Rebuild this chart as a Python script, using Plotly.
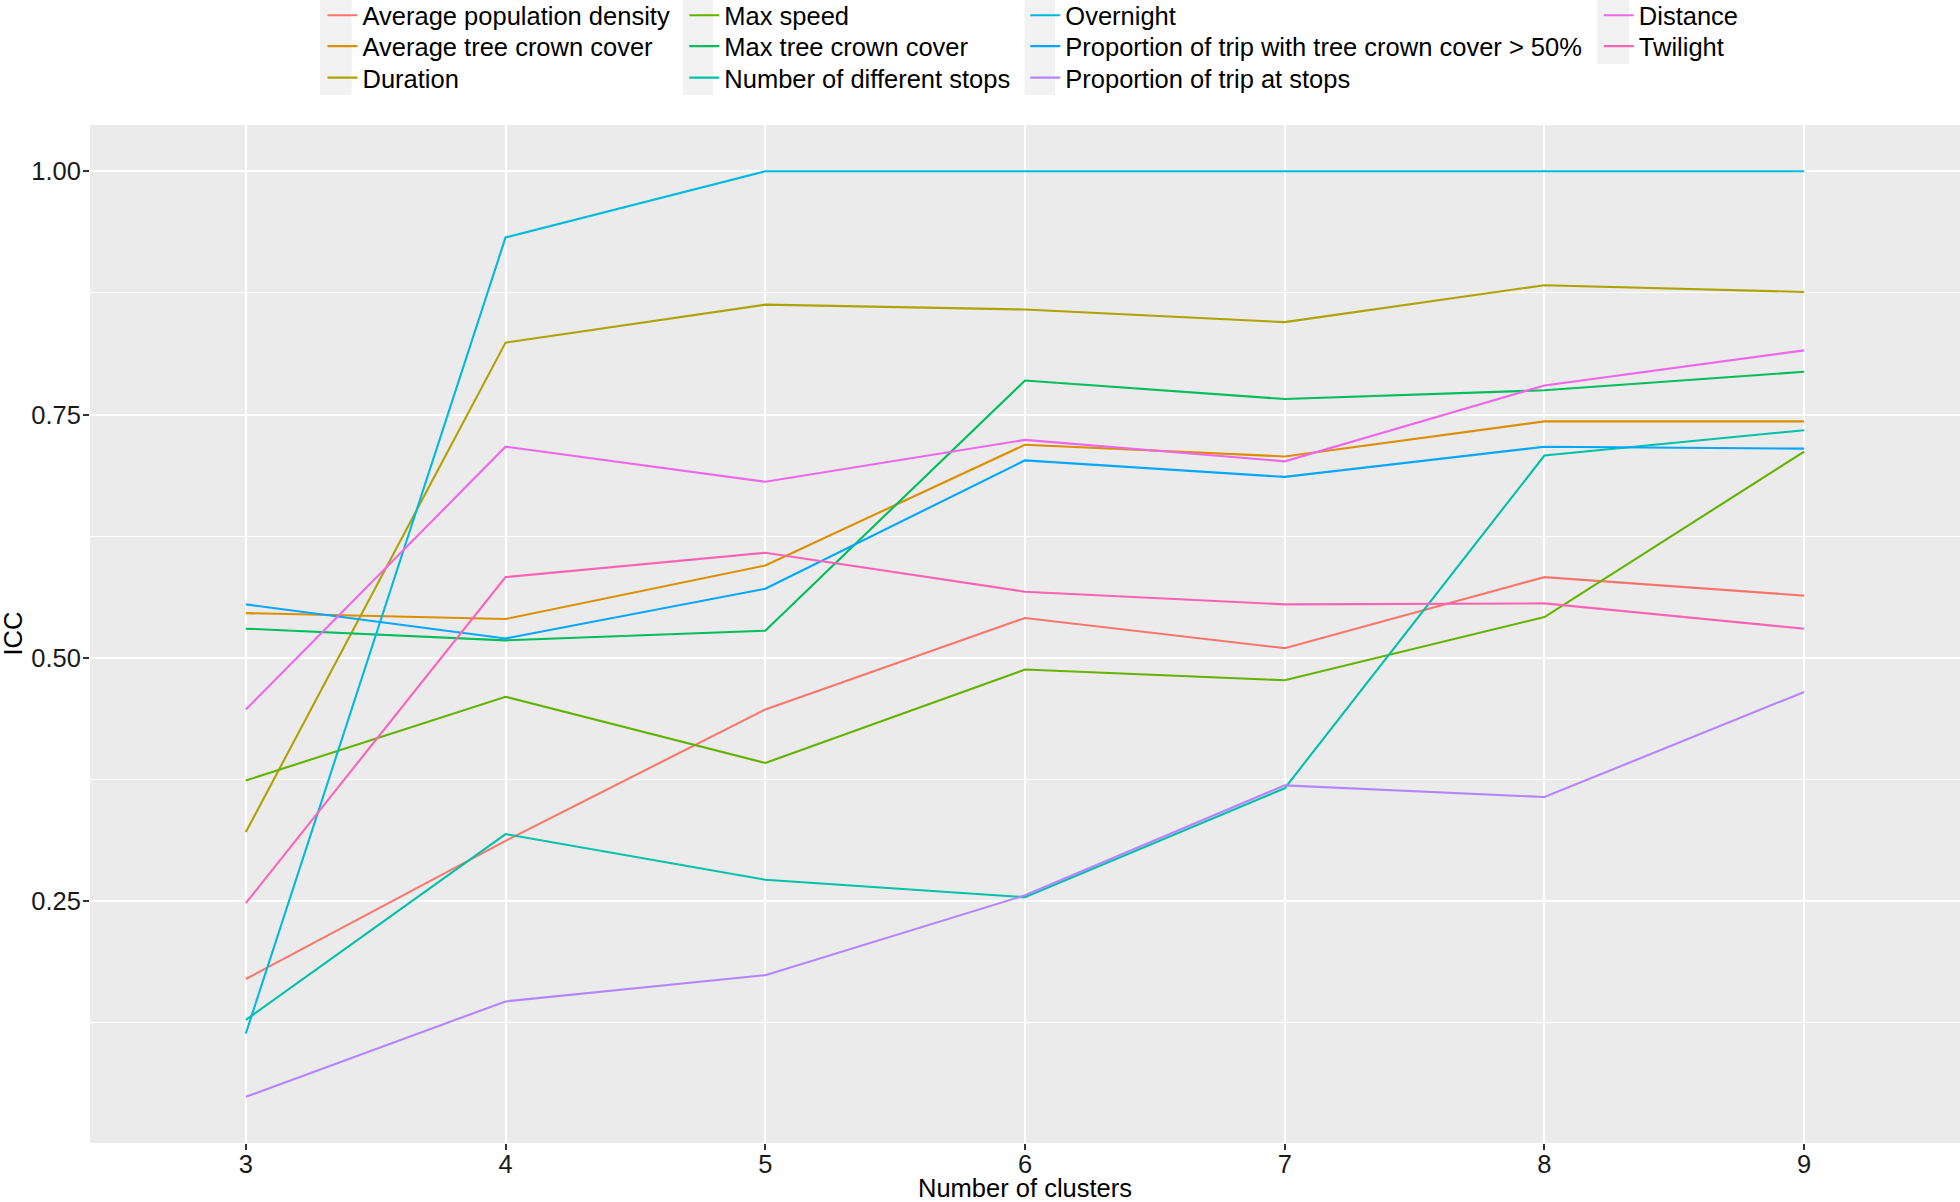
import plotly.graph_objects as go

# ---- data ----
clusters = [3, 4, 5, 6, 7, 8, 9]

avg_pop_density = [0.170, 0.312, 0.447, 0.541, 0.510, 0.583, 0.564]
avg_tree_crown = [0.546, 0.540, 0.595, 0.719, 0.707, 0.743, 0.743]
duration = [0.321, 0.824, 0.863, 0.858, 0.845, 0.883, 0.876]
max_speed = [0.374, 0.460, 0.392, 0.488, 0.477, 0.542, 0.712]
max_tree_crown = [0.530, 0.518, 0.528, 0.785, 0.766, 0.775, 0.794]
n_diff_stops = [0.128, 0.319, 0.272, 0.254, 0.366, 0.708, 0.734]
overnight = [0.114, 0.932, 1.0, 1.0, 1.0, 1.0, 1.0]
prop_tree50 = [0.555, 0.520, 0.571, 0.703, 0.686, 0.717, 0.715]
prop_stops = [0.049, 0.147, 0.174, 0.256, 0.369, 0.357, 0.465]
distance = [0.447, 0.717, 0.681, 0.724, 0.702, 0.780, 0.816]
twilight = [0.248, 0.583, 0.608, 0.568, 0.555, 0.556, 0.530]

series_names = [
    "Average population density", "Average tree crown cover", "Duration",
    "Max speed", "Max tree crown cover", "Number of different stops",
    "Overnight", "Proportion of trip with tree crown cover > 50%",
    "Proportion of trip at stops", "Distance", "Twilight",
]
series_values = [
    avg_pop_density, avg_tree_crown, duration, max_speed, max_tree_crown,
    n_diff_stops, overnight, prop_tree50, prop_stops, distance, twilight,
]
colors = ["#F8766D", "#DB8E00", "#AEA200", "#64B200", "#00BD5C", "#00C1A7",
          "#00BADE", "#00A6FF", "#B385FF", "#EF67EB", "#FF63B6"]

y_tickvals = [0.25, 0.50, 0.75, 1.00]
y_ticktext = ["0.25", "0.50", "0.75", "1.00"]
y_minor = [0.125, 0.375, 0.625, 0.875]

W, H = 1960, 1202
ML, MR, MT, MB = 90, 0, 125, 59
FONT = "Liberation Sans, Arial, Helvetica, sans-serif"
FS = 25.5

# legend layout: 4 columns (text left x in px), 3 rows (center y in px)
col_text_x = [362.7, 724.5, 1065.5, 1639.0]
row_center_y = [15.7, 46.5, 78.0]
col_strip = [(320, 351.7), (683, 713), (1024.5, 1055), (1597, 1629)]
TEXT_OFFSET = 40.2

fig = go.Figure()
legend_layouts = {}
for i, (name, vals, col) in enumerate(zip(series_names, series_values, colors)):
    c, r = i // 3, i % 3
    lname = "legend" if i == 0 else f"legend{i + 1}"
    fig.add_trace(go.Scatter(
        x=clusters, y=vals, mode="lines", name=name,
        line=dict(color=col, width=2.1), legend=lname,
    ))
    legend_layouts[lname] = dict(
        x=(col_text_x[c] - TEXT_OFFSET) / W, xref="container", xanchor="left",
        y=1 - row_center_y[r] / H, yref="container", yanchor="middle",
        bgcolor="rgba(255,255,255,0)", borderwidth=0, itemwidth=30,
        font=dict(family=FONT, size=FS, color="black"),
    )

pw = W - ML - MR
ph = H - MT - MB
shapes = []
for c, (x0, x1) in enumerate(col_strip):
    ybot = 95 if c < 3 else 64
    shapes.append(dict(
        type="rect", xref="paper", yref="paper", layer="above",
        x0=(x0 - ML) / pw, x1=(x1 - ML) / pw,
        y0=(H - MB - ybot) / ph, y1=(H - MB - 0) / ph,
        fillcolor="#F2F2F2", line=dict(width=0),
    ))

# y-axis title ("ICC"), placed left of the tick labels
annotations = [dict(
    text="ICC", xref="paper", yref="paper", x=(12.5 - ML) / pw, y=0.5,
    xanchor="center", yanchor="middle", textangle=-90, showarrow=False,
    font=dict(family=FONT, size=FS, color="black"),
)]

fig.update_layout(
    width=W, height=H,
    margin=dict(l=ML, r=MR, t=MT, b=MB, pad=0, autoexpand=False),
    paper_bgcolor="white", plot_bgcolor="#EBEBEB",
    font=dict(family=FONT, size=FS, color="#1A1A1A"),
    shapes=shapes, annotations=annotations,
    showlegend=True,
    **legend_layouts,
)
fig.update_xaxes(
    range=[2.4, 9.6], tickmode="array", tickvals=clusters,
    ticktext=[str(v) for v in clusters],
    showgrid=True, gridcolor="white", gridwidth=2.2, zeroline=False,
    showline=False, ticks="outside", ticklen=6, tickwidth=1.5,
    tickcolor="#333333", tickfont=dict(size=FS, color="#1A1A1A"),
    ticklabelstandoff=-8,
    title=dict(text="Number of clusters", font=dict(size=FS, color="black"),
               standoff=12),
    automargin=True,
)
fig.update_yaxes(
    range=[0.0015, 1.0476], tickmode="array", tickvals=y_tickvals,
    ticktext=y_ticktext,
    showgrid=True, gridcolor="white", gridwidth=2.2, zeroline=False,
    showline=False, ticks="outside", ticklen=6, tickwidth=1.5,
    tickcolor="#333333", tickfont=dict(size=FS, color="#1A1A1A"),
    ticklabelstandoff=-3,
    minor=dict(tickmode="array", tickvals=y_minor, showgrid=True,
               gridcolor="white", gridwidth=1.1, ticks=""),
    automargin=True,
)

fig.write_html("out.html", config={"displayModeBar": False},
               post_script="document.body.style.margin='0';")
